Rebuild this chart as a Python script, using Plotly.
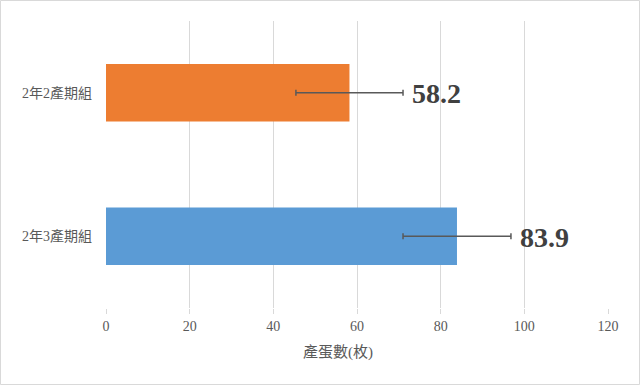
import plotly.graph_objects as go

categories = ["2年2產期組", "2年3產期組"]
values = [58.2, 83.9]
errors = [12.8, 12.9]
colors = ["#ED7D31", "#5B9BD5"]
x_ticks = [0, 20, 40, 60, 80, 100, 120]
x_title = "產蛋數(枚)"

W, H = 640, 385
L, R, T, B = 106, 32, 21, 77
pw, ph = W - L - R, H - T - B

fig = go.Figure()
fig.add_trace(go.Bar(
    y=categories, x=values, orientation="h",
    marker=dict(color=colors, line=dict(width=0)),
    width=0.4,
    error_x=dict(type="data", array=errors, visible=True,
                 color="#595959", thickness=1.5, width=3),
    hoverinfo="skip",
))

for c, v, e in zip(categories, values, errors):
    fig.add_annotation(x=v + e, y=c, text=f"<b>{v}</b>", showarrow=False,
                       xanchor="left", xshift=7, yshift=-1,
                       font=dict(family="Liberation Serif, Times New Roman, serif",
                                 size=28, color="#404040"))

fig.add_annotation(xref="paper", yref="paper", x=(338 - L) / pw, y=(T + ph - 352) / ph,
                   text=x_title, showarrow=False, xanchor="center", yanchor="middle",
                   font=dict(family="Liberation Serif, Noto Sans CJK TC, serif", size=15, color="#595959"))

# outer chart border
fig.add_shape(type="rect", xref="paper", yref="paper",
              x0=(0.5 - L) / pw, x1=(W - 0.5 - L) / pw,
              y0=(T + ph - (H - 0.5)) / ph, y1=(T + ph - 0.5) / ph,
              line=dict(color="#d9d9d9", width=1), layer="below")

fig.update_layout(
    width=W, height=H,
    margin=dict(l=L, r=R, t=T, b=B, pad=0),
    paper_bgcolor="white", plot_bgcolor="white",
    showlegend=False,
    font=dict(family="Liberation Serif, Noto Sans CJK TC, serif", size=14, color="#595959"),
    xaxis=dict(range=[0, 120], tickvals=x_ticks, showgrid=True, gridcolor="#d9d9d9",
               gridwidth=1, zeroline=False, showline=False, ticks="outside", ticklen=5,
               tickcolor="#d9d9d9", tickfont=dict(size=14, color="#595959")),
    yaxis=dict(autorange="reversed", showgrid=False, zeroline=False, showline=False,
               ticks="", ticklabelstandoff=13, tickfont=dict(size=14, color="#595959")),
)

fig.write_html("out.html")
